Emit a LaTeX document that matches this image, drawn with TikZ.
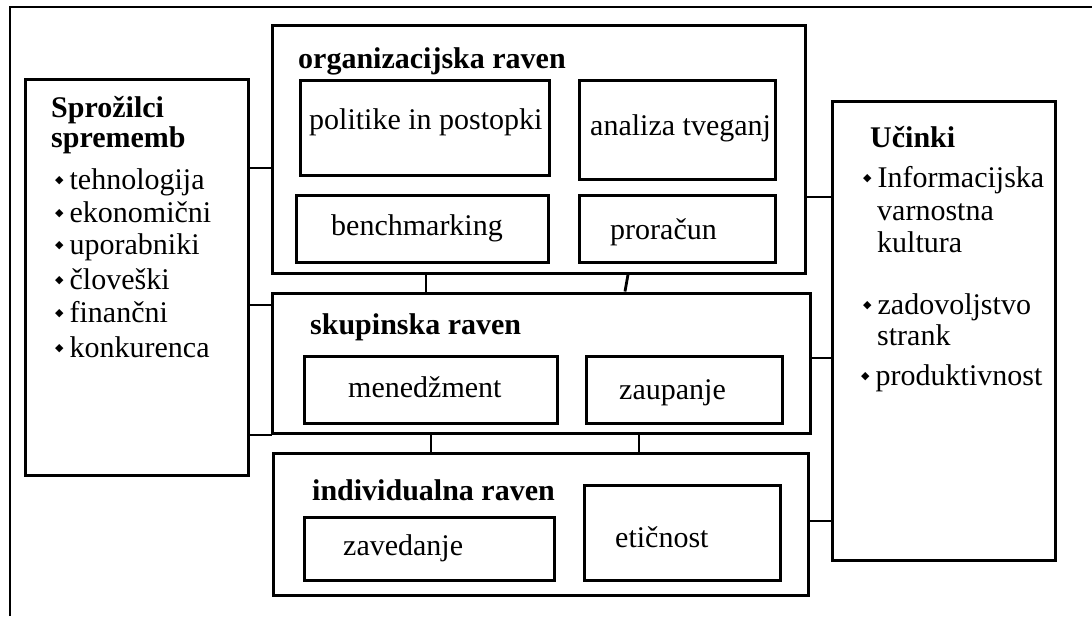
\documentclass[tikz,border=0pt]{standalone}
\usepackage{fontspec}
\setmainfont{Liberation Serif}
\newfontfamily\dejavu{DejaVu Sans}

\newcommand{\bul}{\raisebox{0.18em}{\dejavu\fontsize{11}{11}\selectfont ◆}\hspace{0.2em}}

\tikzset{
  panel/.style={draw, line width=3pt, rectangle, inner sep=0pt},
  txt/.style={inner sep=0pt, anchor=base west, font=\fontsize{30}{34}\selectfont},
  head/.style={txt, font=\fontsize{30}{34}\selectfont\bfseries},
  link/.style={line width=2.8pt},
}

\begin{document}
\begin{tikzpicture}[x=1pt, y=-1pt]

      \useasboundingbox (0,0) rectangle (1092,616);

      % outer frame
      \draw[line width=2.6pt] (10,616) -- (10,7) -- (1092,7);

      % side panels
      \node[panel, minimum width=223pt, minimum height=396pt] (drivers) at (136.5,277) {};
      \node[panel, minimum width=223pt, minimum height=459pt] (effects) at (943.5,330.5) {};

      % levels
      \node[panel, minimum width=533pt, minimum height=248pt] (org) at (538.5,149) {};
      \node[panel, minimum width=538pt, minimum height=140pt] (grp) at (541,363) {};
      \node[panel, minimum width=535pt, minimum height=142pt] (ind) at (540.5,524) {};

      % boxes inside the levels
      \node[panel, minimum width=249pt, minimum height=95pt] (pol) at (424.5,127.5) {};
      \node[panel, minimum width=196pt, minimum height=99pt] (risk) at (677,129.5) {};
      \node[panel, minimum width=252pt, minimum height=67pt] (bench) at (422,228.5) {};
      \node[panel, minimum width=196pt, minimum height=67pt] (budget) at (677,228.5) {};
      \node[panel, minimum width=253pt, minimum height=67pt] (mgmt) at (430.5,389.5) {};
      \node[panel, minimum width=196pt, minimum height=67pt] (trust) at (684,389.5) {};
      \node[panel, minimum width=250pt, minimum height=63pt] (aware) at (429,548.5) {};
      \node[panel, minimum width=196pt, minimum height=95pt] (ethics) at (682,532.5) {};

      % texts of the levels
      \node[head] (org-t) at (298,68) {organizacijska raven};
      \node[head] (grp-t) at (310,334) {skupinska raven};
      \node[head] (ind-t) at (312,500) {individualna raven};

      \node[txt] (pol-t) at (309,129) {politike in postopki};
      \node[txt] (risk-t) at (590,135) {analiza tveganj};
      \node[txt] (bench-t) at (331,235) {benchmarking};
      \node[txt] (budget-t) at (610,239) {proračun};
      \node[txt] (mgmt-t) at (348,397) {menedžment};
      \node[txt] (trust-t) at (619,399) {zaupanje};
      \node[txt] (aware-t) at (343,555) {zavedanje};
      \node[txt] (ethics-t) at (615,547) {etičnost};

      % left panel
      \node[head] (drivers-t1) at (51,117) {Sprožilci};
      \node[head] (drivers-t2) at (51,147) {sprememb};
      \node[txt] (d1) at (55,189) {\bul tehnologija};
      \node[txt] (d2) at (55,222) {\bul ekonomični};
      \node[txt] (d3) at (55,254) {\bul uporabniki};
      \node[txt] (d4) at (55,289) {\bul človeški};
      \node[txt] (d5) at (55,322) {\bul finančni};
      \node[txt] (d6) at (55,357) {\bul konkurenca};

      % right panel
      \node[head] (effects-t) at (870,147) {Učinki};
      \node[txt] (e1) at (863,187) {\bul Informacijska};
      \node[txt] (e1b) at (877,220) {varnostna};
      \node[txt] (e1c) at (877,252) {kultura};
      \node[txt] (e2) at (863,314) {\bul zadovoljstvo};
      \node[txt] (e2b) at (877,345) {strank};
      \node[txt] (e3) at (861,385) {\bul produktivnost};

      % connectors
      \draw[link] (drivers.east |- 0,168) -- (org.west |- 0,168);
      \draw[link] (drivers.east |- 0,305) -- (grp.west |- 0,305);
      \draw[link] (drivers.east |- 0,435) -- (ind.west |- 0,435);

      \draw[link] (org.east |- 0,197) -- (effects.west |- 0,197);
      \draw[link] (grp.east |- 0,358) -- (effects.west |- 0,358);
      \draw[link] (ind.east |- 0,521) -- (effects.west |- 0,521);

      \draw[link] (org.south -| 426,0) -- (grp.north -| 426,0);
      \draw[link] (org.south -| 628,0) -- (grp.north -| 625,0);
      \draw[link] (grp.south -| 431,0) -- (ind.north -| 431,0);
      \draw[link] (grp.south -| 639,0) -- (ind.north -| 639,0);

    \end{tikzpicture}
\end{document}
